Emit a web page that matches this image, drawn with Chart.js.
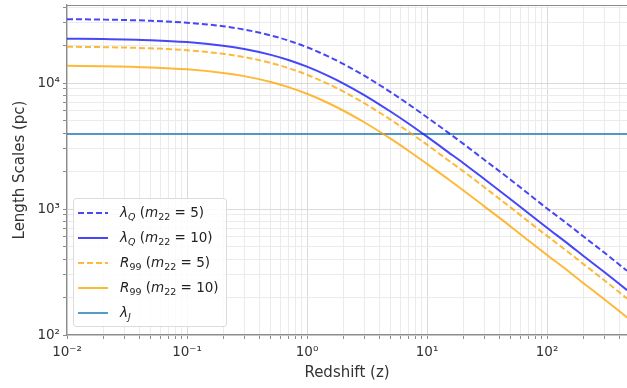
<!DOCTYPE html>
<html>
<head>
<meta charset="utf-8">
<script src="https://cdn.jsdelivr.net/npm/chart.js@4/dist/chart.umd.min.js"></script>
<style>
  html, body { margin: 0; padding: 0; background: #fff; overflow: hidden; }
  #wrap { position: relative; width: 627px; height: 388px; }
  #legend {
    position: absolute; left: 73px; top: 198px; width: 154px; height: 129px;
    background: rgba(255,255,255,0.85); border: 1px solid #dcdcdc; border-radius: 3px;
    font-family: "DejaVu Sans", sans-serif; font-size: 13.5px; color: #222; box-sizing: border-box;
  }
  .row { position: absolute; left: 0; height: 20px; display: flex; align-items: center; }
  .row svg { position: absolute; left: 4px; }
  .row span { position: absolute; left: 46px; white-space: nowrap; }
  sub { font-size: 9.5px; vertical-align: -3px; }
</style>
</head>
<body>
<div id="wrap">
  <canvas id="c" width="627" height="388"></canvas>
  <div id="legend"></div>
</div>
<script>
const redshift = [0.01, 0.02, 0.05, 0.1, 0.2, 0.3, 0.5, 0.7, 1, 1.5, 2, 3, 5, 7, 10, 15, 20, 30, 50, 70, 100, 150, 200, 300, 464];
const lambdaQ_m5  = [32100, 31860, 31180, 30110, 28200, 26560, 23860, 21720, 19230, 16270, 14190, 11430, 8440, 6800, 5350, 4040, 3300, 2460, 1700, 1320, 1010, 754, 608, 451, 323];
const lambdaQ_m10 = [22500, 22340, 21860, 21110, 19770, 18620, 16730, 15230, 13480, 11400, 9950, 8020, 5910, 4770, 3750, 2830, 2320, 1730, 1190, 924, 710, 529, 426, 316, 227];
const R99_m5      = [19400, 19260, 18840, 18200, 17040, 16050, 14420, 13130, 11620, 9830, 8570, 6910, 5100, 4110, 3240, 2440, 2000, 1490, 1025, 796, 612, 456, 367, 272, 195];
const R99_m10     = [13700, 13600, 13300, 12850, 12030, 11340, 10180, 9270, 8210, 6940, 6050, 4880, 3600, 2900, 2280, 1725, 1410, 1050, 724, 562, 432, 322, 259, 192, 138];
const lambdaJ     = [3940, 3940];
const lambdaJ_z   = [0.01, 464];

const seriesLabels = ['λQ (m22 = 5)', 'λQ (m22 = 10)', 'R99 (m22 = 5)', 'R99 (m22 = 10)', 'λJ'];
const seriesLabelsHtml = [
  '<i>λ</i><sub><i>Q</i></sub> (<i>m</i><sub>22</sub> = 5)',
  '<i>λ</i><sub><i>Q</i></sub> (<i>m</i><sub>22</sub> = 10)',
  '<i>R</i><sub>99</sub> (<i>m</i><sub>22</sub> = 5)',
  '<i>R</i><sub>99</sub> (<i>m</i><sub>22</sub> = 10)',
  '<i>λ</i><sub><i>J</i></sub>'
];
const xTickLabels = {'-2': '10⁻²', '-1': '10⁻¹', '0': '10⁰', '1': '10¹', '2': '10²'};
const yTickLabels = {'2': '10²', '3': '10³', '4': '10⁴'};

const BLUE = 'rgba(25,25,245,0.8)';
const ORANGE = 'rgba(255,165,0,0.78)';
const TABBLUE = 'rgba(31,119,180,0.75)';

function pts(xs, ys) { return xs.map((x, i) => ({x: x, y: ys[i]})); }

const datasets = [
  {label: seriesLabels[0], data: pts(redshift, lambdaQ_m5), borderColor: BLUE, borderDash: [6, 3]},
  {label: seriesLabels[1], data: pts(redshift, lambdaQ_m10), borderColor: BLUE},
  {label: seriesLabels[2], data: pts(redshift, R99_m5), borderColor: ORANGE, borderDash: [6, 3]},
  {label: seriesLabels[3], data: pts(redshift, R99_m10), borderColor: ORANGE},
  {label: seriesLabels[4], data: pts(lambdaJ_z, lambdaJ), borderColor: TABBLUE}
].map(d => Object.assign({pointRadius: 0, fill: false, borderWidth: 2, cubicInterpolationMode: 'monotone'}, d));

function logTicks(scale) {
  const ticks = [];
  const lo = Math.floor(Math.log10(scale.min)), hi = Math.ceil(Math.log10(scale.max));
  for (let e = lo; e <= hi; e++) {
    for (let m = 1; m <= 9; m++) {
      const v = parseFloat((m * Math.pow(10, e)).toPrecision(6));
      if (v >= scale.min * 0.9999 && v <= scale.max * 1.0001) ticks.push({value: v, major: m === 1});
    }
  }
  scale.ticks = ticks;
}
function labelFor(map) {
  return function (value) {
    const e = Math.log10(value);
    if (Math.abs(e - Math.round(e)) < 1e-6) return map[String(Math.round(e))] || '';
    return '';
  };
}

const frame = {
  id: 'frame',
  afterDatasetsDraw(chart) {
    const {ctx, chartArea} = chart;
    ctx.save();
    ctx.strokeStyle = '#8c8c8c';
    ctx.lineWidth = 1.2;
    ctx.beginPath();
    ctx.moveTo(chartArea.left, chartArea.top + 0.5);
    ctx.lineTo(chartArea.right, chartArea.top + 0.5);
    ctx.stroke();
    ctx.restore();
  }
};

const gridColor = c => c.tick && c.tick.major ? '#dadada' : '#ebebeb';

const chart = new Chart(document.getElementById('c'), {
  type: 'line',
  data: {datasets},
  plugins: [frame],
  options: {
    responsive: false,
    animation: false,
    layout: {padding: {left: 11, top: 5, right: 0, bottom: 6}},
    plugins: {legend: {display: false}, tooltip: {enabled: false}},
    scales: {
      x: {
        type: 'logarithmic', min: 0.01, max: 464,
        afterBuildTicks: logTicks,
        afterFit(s) { s.height = 47; s.paddingLeft = 0; s.paddingRight = 0; },
        grid: {color: gridColor, lineWidth: 1, tickLength: 4, tickColor: '#8c8c8c'},
        border: {color: '#8c8c8c', width: 1.2},
        ticks: {autoSkip: false, maxRotation: 0, padding: 5, color: '#333', font: {family: 'DejaVu Sans', size: 13.5}, callback: labelFor(xTickLabels)},
        title: {display: true, text: 'Redshift (z)', color: '#333', font: {family: 'DejaVu Sans', size: 15}, padding: 0}
      },
      y: {
        type: 'logarithmic', min: 100, max: 41600,
        afterBuildTicks: logTicks,
        afterFit(s) { s.width = 56; s.paddingTop = 0; s.paddingBottom = 0; },
        grid: {color: gridColor, lineWidth: 1, tickLength: 4, tickColor: '#8c8c8c'},
        border: {color: '#8c8c8c', width: 1.2},
        ticks: {autoSkip: false, padding: 3, color: '#333', font: {family: 'DejaVu Sans', size: 13.5}, callback: labelFor(yTickLabels)},
        title: {display: true, text: 'Length Scales (pc)', color: '#333', font: {family: 'DejaVu Sans', size: 15}, padding: 0}
      }
    }
  }
});

// HTML legend built from the chart's datasets
const leg = document.getElementById('legend');
chart.data.datasets.forEach((d, i) => {
  const row = document.createElement('div');
  row.className = 'row';
  row.style.top = (4 + i * 25) + 'px';
  const dash = d.borderDash ? d.borderDash.join(',') : 'none';
  row.innerHTML = '<svg width="32" height="20"><line x1="0" y1="10" x2="30" y2="10" stroke="' + d.borderColor +
    '" stroke-width="2" stroke-dasharray="' + dash + '"/></svg><span>' + seriesLabelsHtml[i] + '</span>';
  leg.appendChild(row);
});
</script>
</body>
</html>
